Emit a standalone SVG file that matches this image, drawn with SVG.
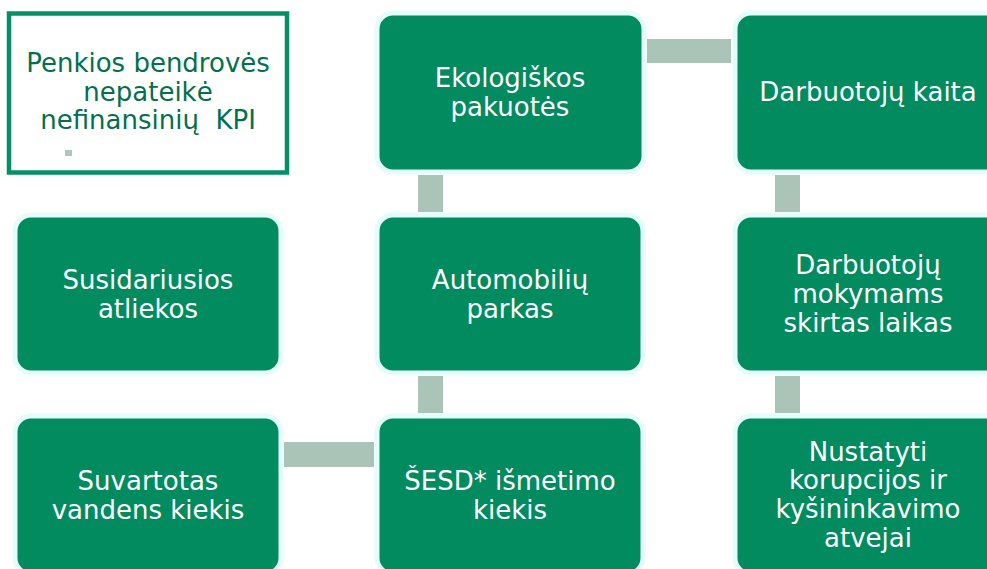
<svg xmlns="http://www.w3.org/2000/svg" width="987" height="569" viewBox="0 0 987 569">
  <style>
    .box { fill: #018b5f; stroke: #e4fdfb; stroke-width: 5; }
    .lbl { font-family: "DejaVu Sans", Verdana, sans-serif; font-size: 26px; fill: #ffffff; text-anchor: middle; }
    .title { font-family: "DejaVu Sans", Verdana, sans-serif; font-size: 26px; fill: #03704c; text-anchor: middle; white-space: pre; }
    .link { fill: #abc4b8; }
  </style>
  <rect width="987" height="569" fill="#ffffff"/>

  <!-- connectors -->
  <g id="connectors">
    <rect class="link" x="647" y="39" width="84" height="24"/>
    <rect class="link" x="418" y="175" width="25" height="37"/>
    <rect class="link" x="418" y="376" width="25" height="37"/>
    <rect class="link" x="775" y="175" width="25" height="37"/>
    <rect class="link" x="775" y="376" width="25" height="37"/>
    <rect class="link" x="284" y="442" width="90" height="25"/>
  </g>

  <!-- title box -->
  <g id="title">
    <rect x="9" y="13.5" width="278" height="159" fill="#ffffff" stroke="#049064" stroke-width="4.5"/>
    <text class="title" x="148" y="72">Penkios bendrovės</text>
    <text class="title" x="148" y="100.5">nepateikė</text>
    <text class="title" x="148" y="129" xml:space="preserve">nefinansinių  KPI</text>
    <rect x="65" y="150" width="7" height="6" fill="#b0c6ba"/>
  </g>

  <g id="ekologiskos">
    <rect class="box" x="377" y="13" width="267" height="159" rx="16"/>
    <text class="lbl" x="510" y="87">Ekologiškos</text>
    <text class="lbl" x="510" y="116">pakuotės</text>
  </g>

  <g id="darbuotoju-kaita">
    <rect class="box" x="735" y="13" width="267" height="159" rx="16"/>
    <text class="lbl" x="868" y="101">Darbuotojų kaita</text>
  </g>

  <g id="susidariusios">
    <rect class="box" x="15" y="215" width="266" height="158" rx="16"/>
    <text class="lbl" x="148" y="289">Susidariusios</text>
    <text class="lbl" x="148" y="318">atliekos</text>
  </g>

  <g id="automobiliu">
    <rect class="box" x="377" y="215" width="266" height="158" rx="16"/>
    <text class="lbl" x="510" y="289">Automobilių</text>
    <text class="lbl" x="510" y="318">parkas</text>
  </g>

  <g id="mokymai">
    <rect class="box" x="735" y="215" width="267" height="158" rx="16"/>
    <text class="lbl" x="868" y="274">Darbuotojų</text>
    <text class="lbl" x="868" y="303">mokymams</text>
    <text class="lbl" x="868" y="332">skirtas laikas</text>
  </g>

  <g id="vanduo">
    <rect class="box" x="15" y="416" width="266" height="158" rx="16"/>
    <text class="lbl" x="148" y="490">Suvartotas</text>
    <text class="lbl" x="148" y="519">vandens kiekis</text>
  </g>

  <g id="sesd">
    <rect class="box" x="377" y="416" width="266" height="158" rx="16"/>
    <text class="lbl" x="510" y="490">ŠESD* išmetimo</text>
    <text class="lbl" x="510" y="519">kiekis</text>
  </g>

  <g id="korupcija">
    <rect class="box" x="735" y="416" width="267" height="158" rx="16"/>
    <text class="lbl" x="868" y="461">Nustatyti</text>
    <text class="lbl" x="868" y="489">korupcijos ir</text>
    <text class="lbl" x="868" y="518">kyšininkavimo</text>
    <text class="lbl" x="868" y="547">atvejai</text>
  </g>
</svg>
